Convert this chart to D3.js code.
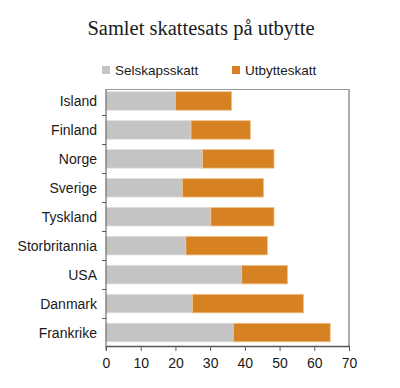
<!DOCTYPE html>
<html>
<head>
<meta charset="utf-8">
<script src="https://cdn.jsdelivr.net/npm/d3@7"></script>
<style>
  body { margin: 0; background: #fff; }
  text { font-family: "Liberation Sans", Arial, sans-serif; fill: #1a1a1a; }
</style>
</head>
<body>
<div id="chart"></div>
<script>
// data
var countries = ["Island", "Finland", "Norge", "Sverige", "Tyskland", "Storbritannia", "USA", "Danmark", "Frankrike"];
var selskapsskatt = [20.0, 24.5, 27.8, 22.0, 30.2, 23.0, 39.1, 24.9, 36.7];
var utbytteskatt = [16.2, 17.1, 20.6, 23.4, 18.2, 23.5, 13.2, 32.0, 27.9];
var xTicks = [0, 10, 20, 30, 40, 50, 60, 70];
var seriesNames = ["Selskapsskatt", "Utbytteskatt"];
var colors = ["#c4c4c4", "#d68222"];
var strokes = ["#dedede", "#f0c48c"];

var svgWidth = 400, svgHeight = 388;
var plot = { left: 106, right: 349, top: 89, bottom: 346 };

var svg = d3.select("#chart").append("svg")
  .attr("width", svgWidth)
  .attr("height", svgHeight);

// title
svg.append("text")
  .attr("x", 201).attr("y", 35)
  .attr("text-anchor", "middle")
  .style("font-family", "'Liberation Serif', 'DejaVu Serif', serif")
  .style("font-size", "20.5px")
  .text("Samlet skattesats på utbytte");

// legend
var legendX = [102, 232];
seriesNames.forEach(function(name, i) {
  svg.append("rect")
    .attr("x", legendX[i]).attr("y", 66)
    .attr("width", 8).attr("height", 8)
    .attr("fill", colors[i]);
  svg.append("text")
    .attr("x", legendX[i] + 13).attr("y", 75)
    .style("font-size", "13.5px")
    .text(name);
});

// scales
var x = d3.scaleLinear().domain([0, 70]).range([plot.left, plot.right]);
var y = d3.scaleBand().domain(countries).range([86.5, 347]).paddingInner(0.36).paddingOuter(0.18);

var rows = countries.map(function(c, i) {
  return { name: c, a: selskapsskatt[i], b: utbytteskatt[i] };
});

// box
svg.append("line").attr("x1", plot.left).attr("x2", plot.right).attr("y1", plot.top + 0.5).attr("y2", plot.top + 0.5)
  .attr("stroke", "#9a9a9a").attr("stroke-width", 1);
svg.append("line").attr("x1", plot.right).attr("x2", plot.right).attr("y1", plot.top).attr("y2", plot.bottom)
  .attr("stroke", "#9a9a9a").attr("stroke-width", 1.6);

// bars
var g = svg.append("g");
g.selectAll("rect.a").data(rows).enter().append("rect")
  .attr("x", x(0))
  .attr("y", d => y(d.name))
  .attr("width", d => x(d.a) - x(0))
  .attr("height", y.bandwidth())
  .attr("fill", colors[0])
  .attr("stroke", strokes[0]).attr("stroke-width", 0.8);
g.selectAll("rect.b").data(rows).enter().append("rect")
  .attr("x", d => x(d.a))
  .attr("y", d => y(d.name))
  .attr("width", d => x(d.a + d.b) - x(d.a))
  .attr("height", y.bandwidth())
  .attr("fill", colors[1])
  .attr("stroke", strokes[1]).attr("stroke-width", 0.8);

// left axis
svg.append("line").attr("x1", plot.left).attr("x2", plot.left).attr("y1", plot.top).attr("y2", plot.bottom + 4)
  .attr("stroke", "#555").attr("stroke-width", 1);
var step = y.step();
countries.slice(1).forEach(function(c) {
  var ty = Math.round(y(c) - step * y.paddingInner() / 2) + 0.5;
  svg.append("line").attr("x1", plot.left - 4).attr("x2", plot.left).attr("y1", ty).attr("y2", ty)
    .attr("stroke", "#555");
});
svg.selectAll("text.cat").data(countries).enter().append("text")
  .attr("x", 97)
  .attr("y", d => y(d) + y.bandwidth() / 2 + 5)
  .attr("text-anchor", "end")
  .style("font-size", "14px")
  .text(d => d);

// bottom axis
var xAxis = svg.append("g")
  .attr("transform", "translate(0," + plot.bottom + ")")
  .call(d3.axisBottom(x).tickValues(xTicks).tickSize(5).tickSizeOuter(0).tickFormat(d3.format("d")));
xAxis.select(".domain").attr("stroke", "#555").attr("stroke-width", 1.4);
xAxis.selectAll(".tick line").attr("stroke", "#555");
xAxis.selectAll(".tick text")
  .attr("y", 12)
  .style("font-size", "14px")
  .style("font-family", "'Liberation Sans', Arial, sans-serif")
  .attr("fill", "#1a1a1a");
</script>
</body>
</html>
